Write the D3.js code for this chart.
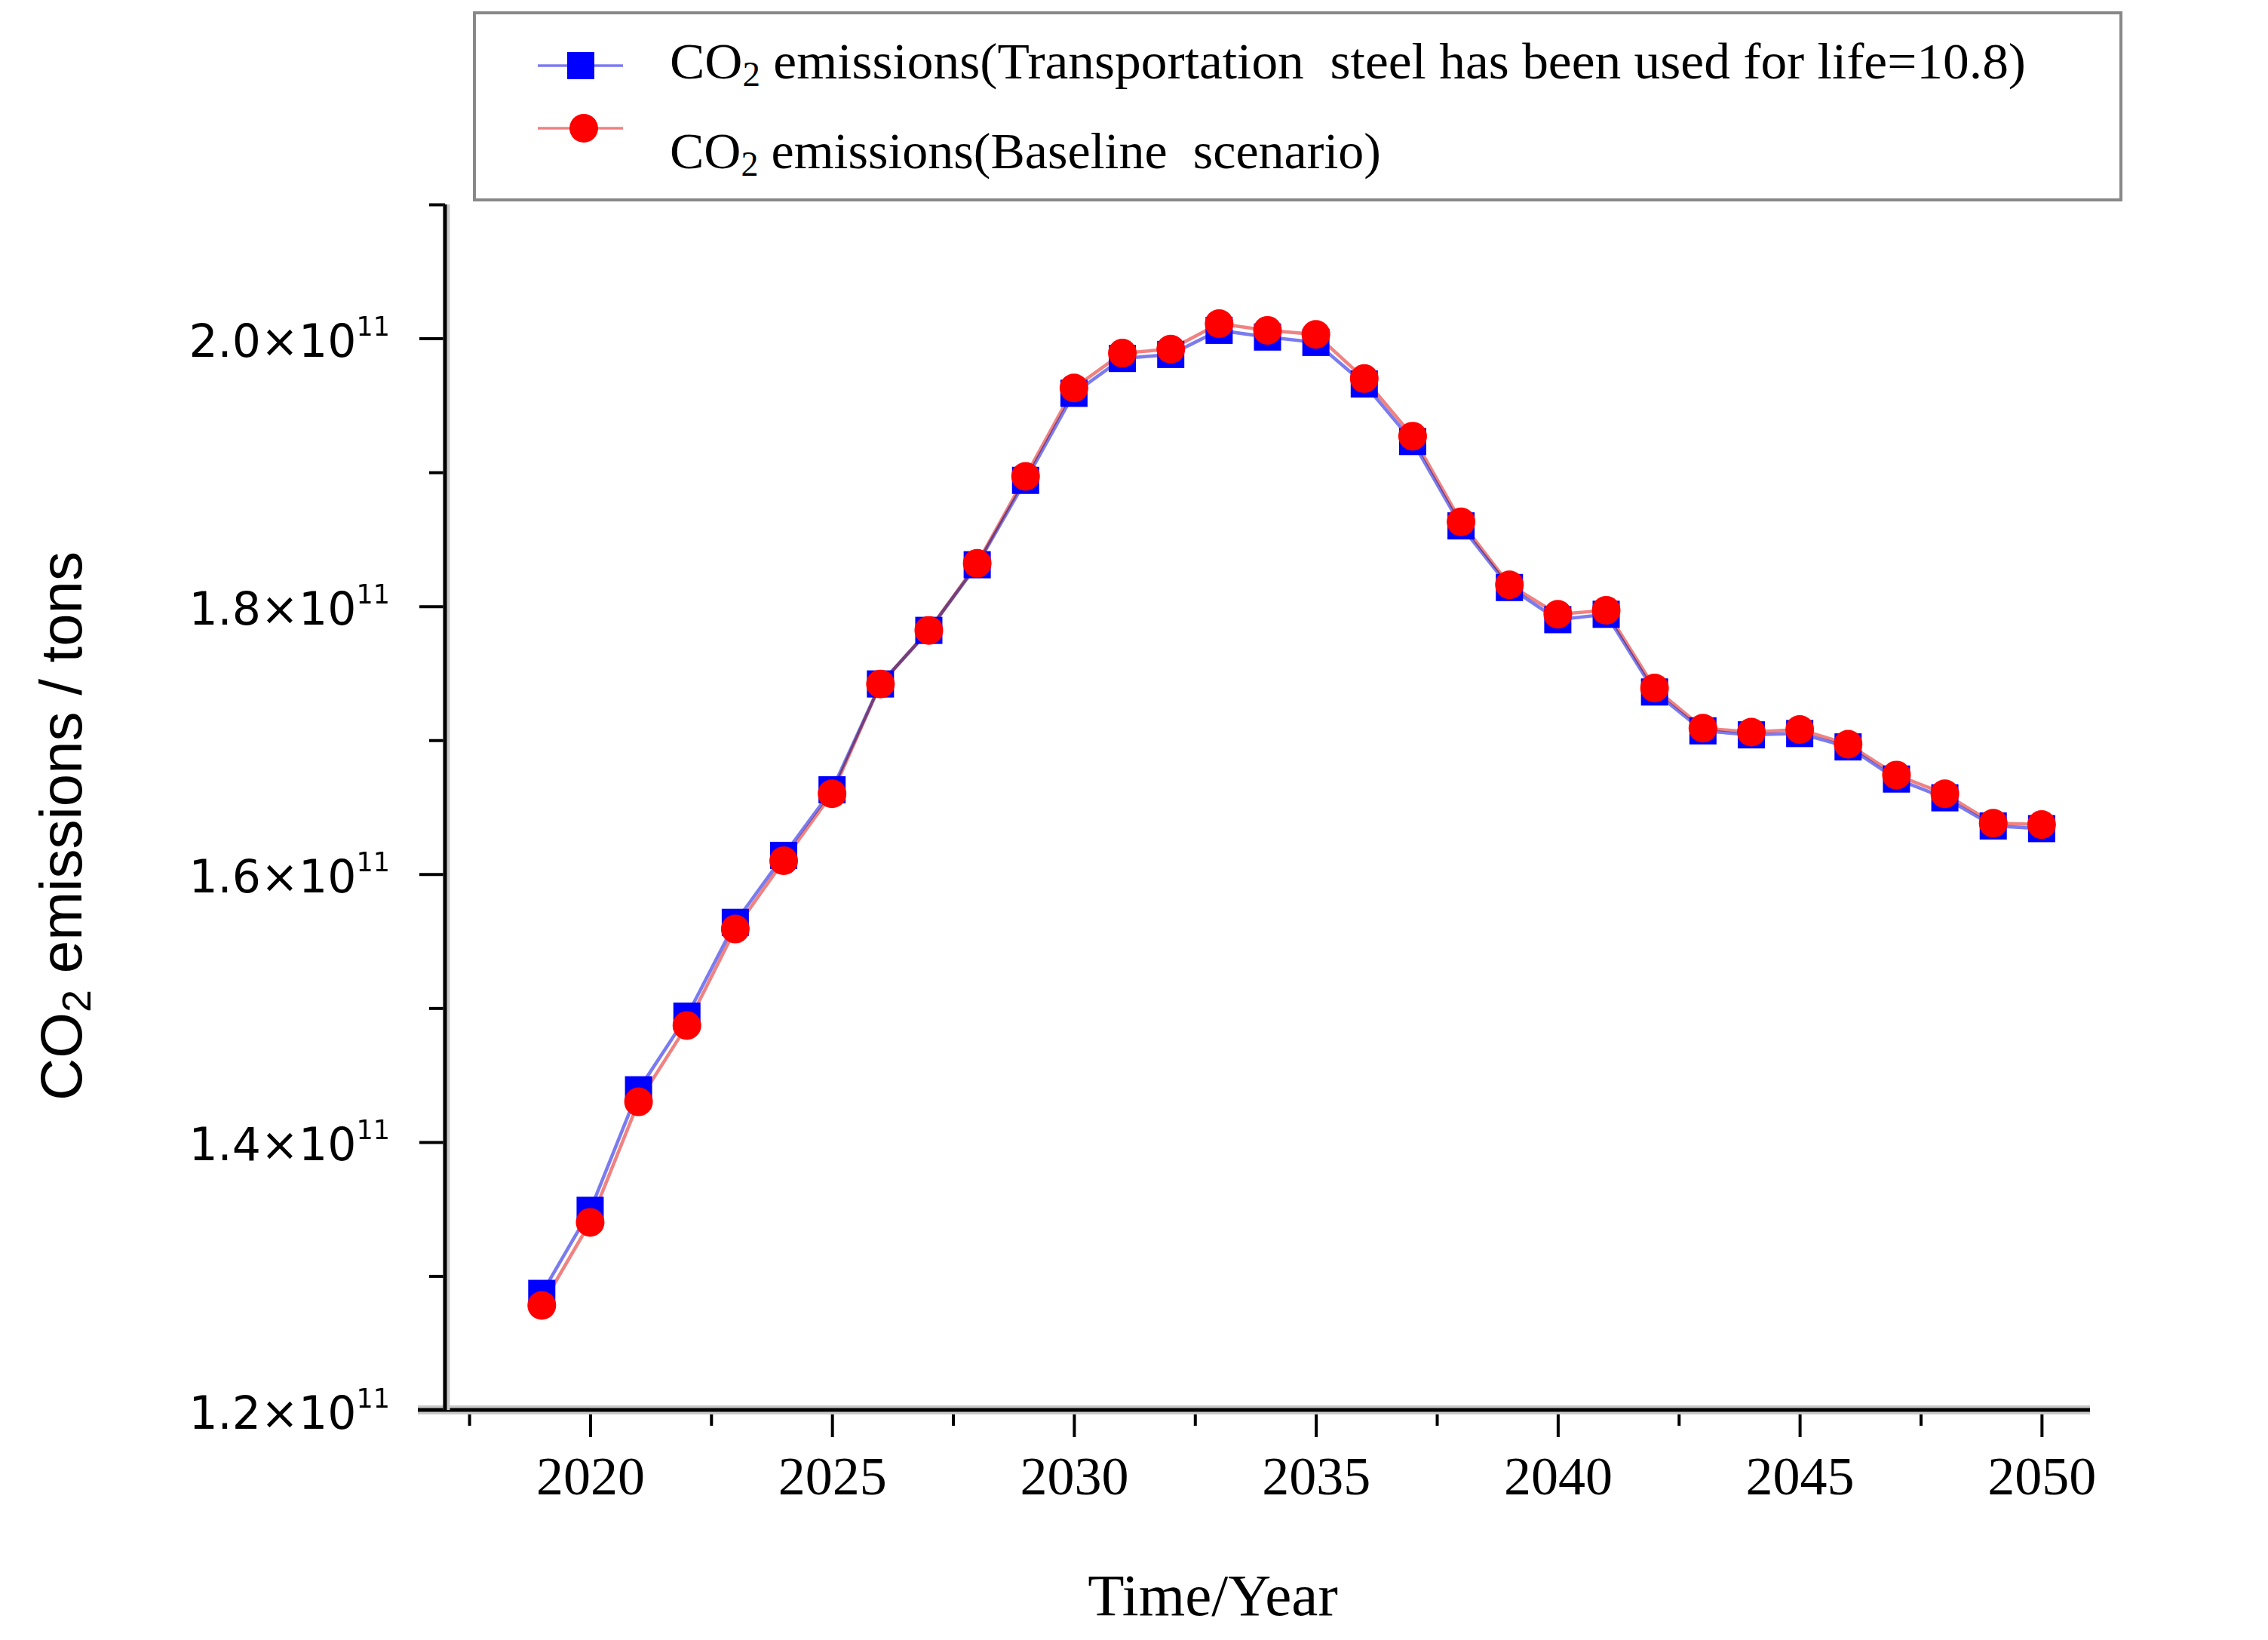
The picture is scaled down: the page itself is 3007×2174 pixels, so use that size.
<!DOCTYPE html>
<html>
<head>
<meta charset="utf-8">
<script src="https://cdn.jsdelivr.net/npm/d3@7"></script>
<style>
  body { margin: 0; background: #fff; }
  svg { display: block; }
  .serif { font-family: "Liberation Serif", "Times New Roman", serif; }
  .sans { font-family: "DejaVu Sans", Verdana, sans-serif; }
</style>
</head>
<body>
<div id="chart"></div>
<script>
// canvas and plot box
var W = 3007, H = 2174;
var margin = {top: 271, right: 236, bottom: 305, left: 590};
var width = W - margin.left - margin.right,
    height = H - margin.top - margin.bottom;

// data (tons of CO2)
const years = [2019, 2020, 2021, 2022, 2023, 2024, 2025, 2026, 2027, 2028, 2029, 2030,
               2031, 2032, 2033, 2034, 2035, 2036, 2037, 2038, 2039, 2040, 2041, 2042,
               2043, 2044, 2045, 2046, 2047, 2048, 2049, 2050];
const transportSteel = [1.287e11, 1.349e11, 1.439e11, 1.494e11, 1.564e11, 1.614e11, 1.663e11, 1.742e11,
                        1.782e11, 1.831e11, 1.894e11, 1.959e11, 1.985e11, 1.988e11, 2.006e11, 2.001e11,
                        1.997e11, 1.966e11, 1.923e11, 1.860e11, 1.814e11, 1.790e11, 1.794e11, 1.736e11,
                        1.707e11, 1.704e11, 1.705e11, 1.695e11, 1.671e11, 1.657e11, 1.636e11, 1.634e11];
const baseline = [1.278e11, 1.340e11, 1.430e11, 1.487e11, 1.559e11, 1.610e11, 1.660e11, 1.742e11,
                  1.782e11, 1.832e11, 1.897e11, 1.963e11, 1.989e11, 1.992e11, 2.011e11, 2.006e11,
                  2.003e11, 1.970e11, 1.927e11, 1.863e11, 1.816e11, 1.794e11, 1.797e11, 1.739e11,
                  1.709e11, 1.706e11, 1.708e11, 1.697e11, 1.674e11, 1.660e11, 1.638e11, 1.637e11];

const xMajor = [2020, 2025, 2030, 2035, 2040, 2045, 2050];
const xMinor = [2017.5, 2022.5, 2027.5, 2032.5, 2037.5, 2042.5, 2047.5];
const yMajor = [1.2e11, 1.4e11, 1.6e11, 1.8e11, 2.0e11];
const yMinor = [1.3e11, 1.5e11, 1.7e11, 1.9e11, 2.1e11];

const legendLabels = ["(Transportation  steel has been used for life=10.8)", "(Baseline  scenario)"];

const x = d3.scaleLinear().domain([2017, 2051]).range([0, width]);
const y = d3.scaleLinear().domain([1.2e11, 2.1e11]).range([height, 0]);

const svg0 = d3.select("#chart")
    .append("svg")
    .attr("width", W)
    .attr("height", H);

svg0.append("rect").attr("width", W).attr("height", H).attr("fill", "#fff");

const svg = svg0.append("g")
    .attr("transform", `translate(${margin.left},${margin.top})`);

// ---- axes ----
function styleAxis(g){
    g.selectAll(".domain").remove();
    g.selectAll(".tick line").attr("stroke", "#000").attr("stroke-width", 4);
}

// x minor ticks
svg.append("g")
    .attr("transform", `translate(0,${height})`)
    .call(d3.axisBottom(x).tickValues(xMinor).tickSize(21).tickFormat(""))
    .call(styleAxis);

// x major ticks + labels
svg.append("g")
    .attr("transform", `translate(0,${height})`)
    .call(d3.axisBottom(x).tickValues(xMajor).tickSize(36).tickPadding(25).tickFormat(d3.format("d")))
    .call(styleAxis)
    .call(g => g.selectAll(".tick text")
        .attr("class", "serif")
        .attr("font-size", 72)
        .attr("fill", "#000")
        .attr("dy", "0.71em"));

// y minor ticks
svg.append("g")
    .call(d3.axisLeft(y).tickValues(yMinor).tickSize(21).tickFormat(""))
    .call(styleAxis);

// y major ticks + labels  a.b×10^11
svg.append("g")
    .call(d3.axisLeft(y).tickValues(yMajor).tickSize(34).tickPadding(0).tickFormat(""))
    .call(styleAxis)
    .call(g => {
        const t = g.selectAll(".tick").append("text")
            .attr("class", "sans")
            .attr("x", -73)
            .attr("y", 24)
            .attr("fill", "#000")
            .attr("text-anchor", "end")
            .attr("font-size", 60);
        t.append("tspan").text(d => (d / 1e11).toFixed(1) + "\u00d710");
        t.append("tspan").attr("font-size", 35).attr("dy", -28).text("11");
    });

// axis lines (x line runs a tick-length past the corner, as in the original)
svg.append("line")
    .attr("x1", x.range()[0] - 36).attr("x2", x.range()[1])
    .attr("y1", height).attr("y2", height)
    .attr("stroke", "#c8c8c8").attr("stroke-width", 12);
svg.append("line")
    .attr("x1", x.range()[0] - 36).attr("x2", x.range()[1])
    .attr("y1", height).attr("y2", height)
    .attr("stroke", "#000").attr("stroke-width", 5);
svg.append("line")
    .attr("x1", 2).attr("x2", 2)
    .attr("y1", y.range()[1]).attr("y2", height)
    .attr("stroke", "#c8c8c8").attr("stroke-width", 9);
svg.append("line")
    .attr("x1", 0).attr("x2", 0)
    .attr("y1", y.range()[1]).attr("y2", height)
    .attr("stroke", "#000").attr("stroke-width", 5);

// ---- series ----
const series = [
    {name: "transport", values: transportSteel, line: "#7b7bf0", mark: "#0000ff", shape: "square"},
    {name: "baseline", values: baseline, line: "#f08282", mark: "#ff0000", shape: "circle"}
];

const lineGen = d3.line()
    .x((d, i) => x(years[i]))
    .y(d => y(d));

series.forEach(s => {
    svg.append("path")
        .datum(s.values)
        .attr("fill", "none")
        .attr("stroke", s.line)
        .attr("stroke-width", 4.5)
        .style("mix-blend-mode", "multiply")
        .attr("d", lineGen);
});

// markers: squares below, circles on top
svg.append("g").selectAll("rect")
    .data(transportSteel)
    .join("rect")
    .attr("x", (d, i) => x(years[i]) - 18)
    .attr("y", d => y(d) - 18)
    .attr("width", 36)
    .attr("height", 36)
    .attr("fill", "#0000ff");

svg.append("g").selectAll("circle")
    .data(baseline)
    .join("circle")
    .attr("cx", (d, i) => x(years[i]))
    .attr("cy", d => y(d))
    .attr("r", 19)
    .attr("fill", "#ff0000");

// ---- axis titles ----
svg0.append("text")
    .attr("class", "serif")
    .attr("x", 1608)
    .attr("y", 2141)
    .attr("text-anchor", "middle")
    .attr("font-size", 79)
    .attr("fill", "#000")
    .text("Time/Year");

const yTitle = svg0.append("text")
    .attr("font-family", "'Liberation Sans', Arial, sans-serif")
    .attr("font-size", 78)
    .attr("fill", "#000")
    .attr("text-anchor", "middle")
    .attr("transform", "translate(108,1095) rotate(-90)");
yTitle.append("tspan").text("CO");
yTitle.append("tspan").attr("font-size", 54).attr("dy", 12).text("2");
yTitle.append("tspan").attr("dy", -12).text(" emissions / tons");

// ---- legend ----
const legend = svg0.append("g");
legend.append("rect")
    .attr("x", 629).attr("y", 17)
    .attr("width", 2183).attr("height", 248)
    .attr("fill", "#fff")
    .attr("stroke", "#888")
    .attr("stroke-width", 4);

const rows = [
    {s: series[0], lineY: 87, textY: 104, label: legendLabels[0], len: 1798},
    {s: series[1], lineY: 170, textY: 223, label: legendLabels[1], len: 943}
];

rows.forEach(r => {
    legend.append("line")
        .attr("x1", 713).attr("x2", 826)
        .attr("y1", r.lineY).attr("y2", r.lineY)
        .attr("stroke", r.s.line)
        .attr("stroke-width", 3.5);
    if (r.s.shape === "square") {
        legend.append("rect")
            .attr("x", 770 - 18).attr("y", r.lineY - 18)
            .attr("width", 36).attr("height", 36)
            .attr("fill", r.s.mark);
    } else {
        legend.append("circle")
            .attr("cx", 774).attr("cy", r.lineY)
            .attr("r", 19)
            .attr("fill", r.s.mark);
    }
    const t = legend.append("text")
        .attr("class", "serif")
        .attr("x", 888)
        .attr("y", r.textY)
        .attr("font-size", 68)
        .attr("fill", "#000")
        .attr("textLength", r.len)
        .attr("lengthAdjust", "spacingAndGlyphs")
        .style("white-space", "pre");
    t.append("tspan").text("CO");
    t.append("tspan").attr("font-size", 46).attr("dy", 10).text("2");
    t.append("tspan").attr("dy", -10).text(" emissions" + r.label);
});
</script>
</body>
</html>
